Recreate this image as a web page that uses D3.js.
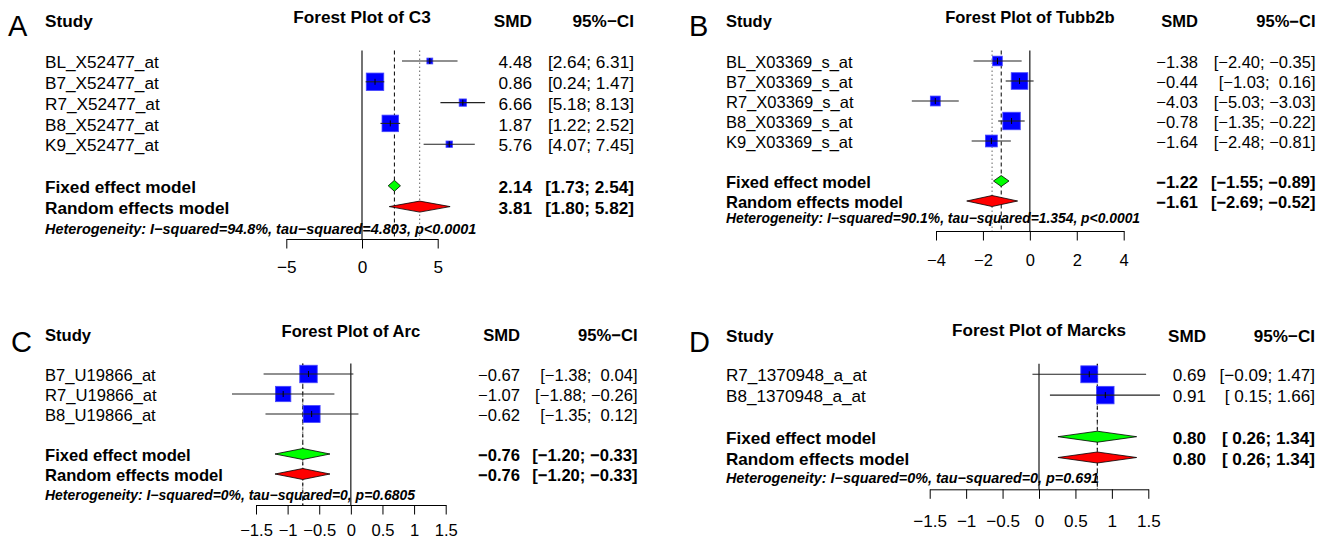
<!DOCTYPE html>
<meta charset="utf-8">
<head>
<style>
  body { margin: 0; background: #fff; }
  text { font-family: "Liberation Sans", Arial, Helvetica, sans-serif; }
</style>
<title>Forest plots</title>
</head>
<body>
<div id="my_dataviz"></div>
<script src="https://d3js.org/d3.v7.min.js"></script>
<script>

// ---- values ----
// A: C3
var studiesA = ["BL_X52477_at", "B7_X52477_at", "R7_X52477_at", "B8_X52477_at", "K9_X52477_at"];
var smdA   = [4.48, 0.86, 6.66, 1.87, 5.76];
var lowerA = [2.64, 0.24, 5.18, 1.22, 4.07];
var upperA = [6.31, 1.47, 8.13, 2.52, 7.45];
var fixedA  = [2.14, 1.73, 2.54];
var randomA = [3.81, 1.80, 5.82];
var hetA = "Heterogeneity: I\u2212squared=94.8%, tau\u2212squared=4.803, p<0.0001";
var ticksA = [-5, 0, 5];

// B: Tubb2b
var studiesB = ["BL_X03369_s_at", "B7_X03369_s_at", "R7_X03369_s_at", "B8_X03369_s_at", "K9_X03369_s_at"];
var smdB   = [-1.38, -0.44, -4.03, -0.78, -1.64];
var lowerB = [-2.40, -1.03, -5.03, -1.35, -2.48];
var upperB = [-0.35, 0.16, -3.03, -0.22, -0.81];
var fixedB  = [-1.22, -1.55, -0.89];
var randomB = [-1.61, -2.69, -0.52];
var hetB = "Heterogeneity: I\u2212squared=90.1%, tau\u2212squared=1.354, p<0.0001";
var ticksB = [-4, -2, 0, 2, 4];

// C: Arc
var studiesC = ["B7_U19866_at", "R7_U19866_at", "B8_U19866_at"];
var smdC   = [-0.67, -1.07, -0.62];
var lowerC = [-1.38, -1.88, -1.35];
var upperC = [0.04, -0.26, 0.12];
var fixedC  = [-0.76, -1.20, -0.33];
var randomC = [-0.76, -1.20, -0.33];
var hetC = "Heterogeneity: I\u2212squared=0%, tau\u2212squared=0, p=0.6805";
var ticksC = [-1.5, -1, -0.5, 0, 0.5, 1, 1.5];

// D: Marcks
var studiesD = ["R7_1370948_a_at", "B8_1370948_a_at"];
var smdD   = [0.69, 0.91];
var lowerD = [-0.09, 0.15];
var upperD = [1.47, 1.66];
var fixedD  = [0.80, 0.26, 1.34];
var randomD = [0.80, 0.26, 1.34];
var hetD = "Heterogeneity: I\u2212squared=0%, tau\u2212squared=0, p=0.691";
var ticksD = [-1.5, -1, -0.5, 0, 0.5, 1, 1.5];

// ---- layout of the four panels ----
var panels = [
  {letter: "A", title: "Forest Plot of C3", studies: studiesA, smd: smdA, lower: lowerA, upper: upperA,
   fixed: fixedA, random: randomA, het: hetA, ticks: ticksA,
   fs: 17.2, letterX: 8, letterY: 36, studyX: 45, smdRight: 532, ciRight: 634,
   xRange: [286.3, 437.7], y0: 61, step: 20.8, headerY: 21, titleY: 16.5, hetY: 229, axisY: 239, tickLabelY: 266.5},
  {letter: "B", title: "Forest Plot of Tubb2b", studies: studiesB, smd: smdB, lower: lowerB, upper: upperB,
   fixed: fixedB, random: randomB, het: hetB, ticks: ticksB,
   fs: 16.5, letterX: 689, letterY: 36, studyX: 726, smdRight: 1198, ciRight: 1315.5,
   xRange: [936, 1123.7], y0: 61, step: 20, headerY: 21, titleY: 17, hetY: 218.3, axisY: 231, tickLabelY: 260.5},
  {letter: "C", title: "Forest Plot of Arc", studies: studiesC, smd: smdC, lower: lowerC, upper: upperC,
   fixed: fixedC, random: randomC, het: hetC, ticks: ticksC,
   fs: 16.6, letterX: 11, letterY: 351.5, studyX: 45, smdRight: 520, ciRight: 637.5,
   xRange: [256, 445.7], y0: 374, step: 20, headerY: 335, titleY: 331, hetY: 495, axisY: 505, tickLabelY: 530.5},
  {letter: "D", title: "Forest Plot of Marcks", studies: studiesD, smd: smdD, lower: lowerD, upper: upperD,
   fixed: fixedD, random: randomD, het: hetD, ticks: ticksD,
   fs: 17.1, letterX: 689, letterY: 352, studyX: 726, smdRight: 1206, ciRight: 1315,
   xRange: [929.7, 1148.3], y0: 374.3, step: 20.8, headerY: 336, titleY: 330, hetY: 478, axisY: 489.3, tickLabelY: 521}
];

var svg = d3.select("#my_dataviz")
  .append("svg")
    .attr("width", 1329)
    .attr("height", 545);

svg.append("rect").attr("width", 1329).attr("height", 545).attr("fill", "#fff");

// number formatting like R (true minus sign)
function fmt(d) { return (d < 0 ? "\u2212" : "") + Math.abs(d).toFixed(2); }
function pad(s, n) { while (s.length < n) s = " " + s; return s; }

// text placed by the vertical centre of its capitals
function label(g, x, yc, str, size, opts) {
  opts = opts || {};
  return g.append("text")
    .attr("x", x)
    .attr("y", yc + 0.36 * size)
    .attr("text-anchor", opts.anchor || "start")
    .attr("font-size", size)
    .attr("font-weight", opts.bold ? "bold" : "normal")
    .attr("font-style", opts.italic ? "italic" : "normal")
    .style("white-space", "pre")
    .attr("fill", "#000")
    .text(str);
}

panels.forEach(function(p) {
  var g = svg.append("g");
  var fs = p.fs;
  var n = p.studies.length;
  var x = d3.scaleLinear()
    .domain([p.ticks[0], p.ticks[p.ticks.length - 1]])
    .range(p.xRange);
  function rowY(i) { return p.y0 + i * p.step; }
  var yFixed = rowY(n + 1), yRandom = rowY(n + 2);

  // inverse-variance weights from the CI widths -> box size
  var w = p.lower.map(function(l, i) { return 1 / Math.pow((p.upper[i] - l) / 3.92, 2); });
  var size = d3.scaleSqrt().domain([0, d3.max(w)]).range([0, 17.5]);

  // headers
  label(g, p.letterX, p.letterY - 10.4, p.letter, 29);
  label(g, p.studyX, p.headerY, "Study", fs, {bold: true});
  label(g, (p.xRange[0] + p.xRange[1]) / 2, p.titleY, p.title, fs, {bold: true, anchor: "middle"});
  label(g, p.smdRight, p.headerY, "SMD", fs, {bold: true, anchor: "end"});
  label(g, p.ciRight, p.headerY, "95%\u2212CI", fs, {bold: true, anchor: "end"});

  // CI strings padded like R
  var allLo = p.lower.concat([p.fixed[1], p.random[1]]).map(fmt);
  var allHi = p.upper.concat([p.fixed[2], p.random[2]]).map(fmt);
  var wLo = d3.max(allLo, function(s) { return s.length; });
  var wHi = d3.max(allHi, function(s) { return s.length; });
  function ci(i) { return "[" + pad(allLo[i], wLo) + "; " + pad(allHi[i], wHi) + "]"; }

  // study rows text
  p.studies.forEach(function(s, i) {
    var y = rowY(i) + 1;
    label(g, p.studyX, y, s, fs);
    label(g, p.smdRight, y, fmt(p.smd[i]), fs, {anchor: "end"});
    label(g, p.ciRight, y, ci(i), fs, {anchor: "end"});
  });

  // summary rows text
  [["Fixed effect model", p.fixed, yFixed, n], ["Random effects model", p.random, yRandom, n + 1]].forEach(function(r) {
    var y = r[2] + 1;
    label(g, p.studyX, y, r[0], fs, {bold: true});
    label(g, p.smdRight, y, fmt(r[1][0]), fs, {bold: true, anchor: "end"});
    label(g, p.ciRight, y, ci(r[3]), fs, {bold: true, anchor: "end"});
  });

  label(g, p.studyX, p.hetY, p.het, fs * 0.84, {bold: true, italic: true});

  // vertical reference lines
  var yTop = rowY(0) - 10.5;
  g.append("line")
    .attr("x1", x(0)).attr("x2", x(0)).attr("y1", yTop).attr("y2", p.axisY)
    .attr("stroke", "#000").attr("stroke-width", 1.1);
  g.append("line")
    .attr("x1", x(p.random[0])).attr("x2", x(p.random[0])).attr("y1", yTop).attr("y2", p.axisY)
    .attr("stroke", "#666").attr("stroke-width", 1).attr("stroke-dasharray", "1.5,2.5");
  g.append("line")
    .attr("x1", x(p.fixed[0])).attr("x2", x(p.fixed[0])).attr("y1", yTop).attr("y2", p.axisY)
    .attr("stroke", "#000").attr("stroke-width", 1).attr("stroke-dasharray", "4,3");

  // study boxes and CI lines
  p.smd.forEach(function(d, i) {
    var y = rowY(i), s = size(w[i]);
    g.append("rect")
      .attr("x", x(d) - s / 2).attr("y", y - s / 2)
      .attr("width", s).attr("height", s)
      .attr("fill", "#0000ff").attr("stroke", "#4646ff").attr("stroke-width", 0.8);
    g.append("line")
      .attr("x1", x(p.lower[i])).attr("x2", x(p.upper[i])).attr("y1", y).attr("y2", y)
      .attr("stroke", "#222").attr("stroke-width", 1.1);
    g.append("line")
      .attr("x1", x(d)).attr("x2", x(d)).attr("y1", y - 3).attr("y2", y + 3)
      .attr("stroke", "#000").attr("stroke-width", 1);
  });

  // summary diamonds
  function diamond(est, y, fill) {
    var h = 5.5;
    g.append("path")
      .attr("d", "M" + x(est[1]) + "," + y + "L" + x(est[0]) + "," + (y - h) +
                 "L" + x(est[2]) + "," + y + "L" + x(est[0]) + "," + (y + h) + "Z")
      .attr("fill", fill).attr("stroke", "#000").attr("stroke-width", 0.8);
  }
  diamond(p.fixed, yFixed, "#00ff00");
  diamond(p.random, yRandom, "#ff0000");

  // x axis
  var tickLen = 9.5;
  var axis = g.append("g")
    .attr("transform", "translate(0," + p.axisY + ")")
    .call(d3.axisBottom(x)
      .tickValues(p.ticks)
      .tickSize(tickLen)
      .tickSizeOuter(0)
      .tickPadding(p.tickLabelY - p.axisY - tickLen - 0.352 * fs)
      .tickFormat(function(d) { return (d < 0 ? "\u2212" : "") + Math.abs(d); }));
  axis.attr("font-size", fs).attr("font-family", null);
  axis.selectAll("text").attr("fill", "#000");
  axis.selectAll("line, path").attr("stroke", "#000");
});

</script>
</body>
